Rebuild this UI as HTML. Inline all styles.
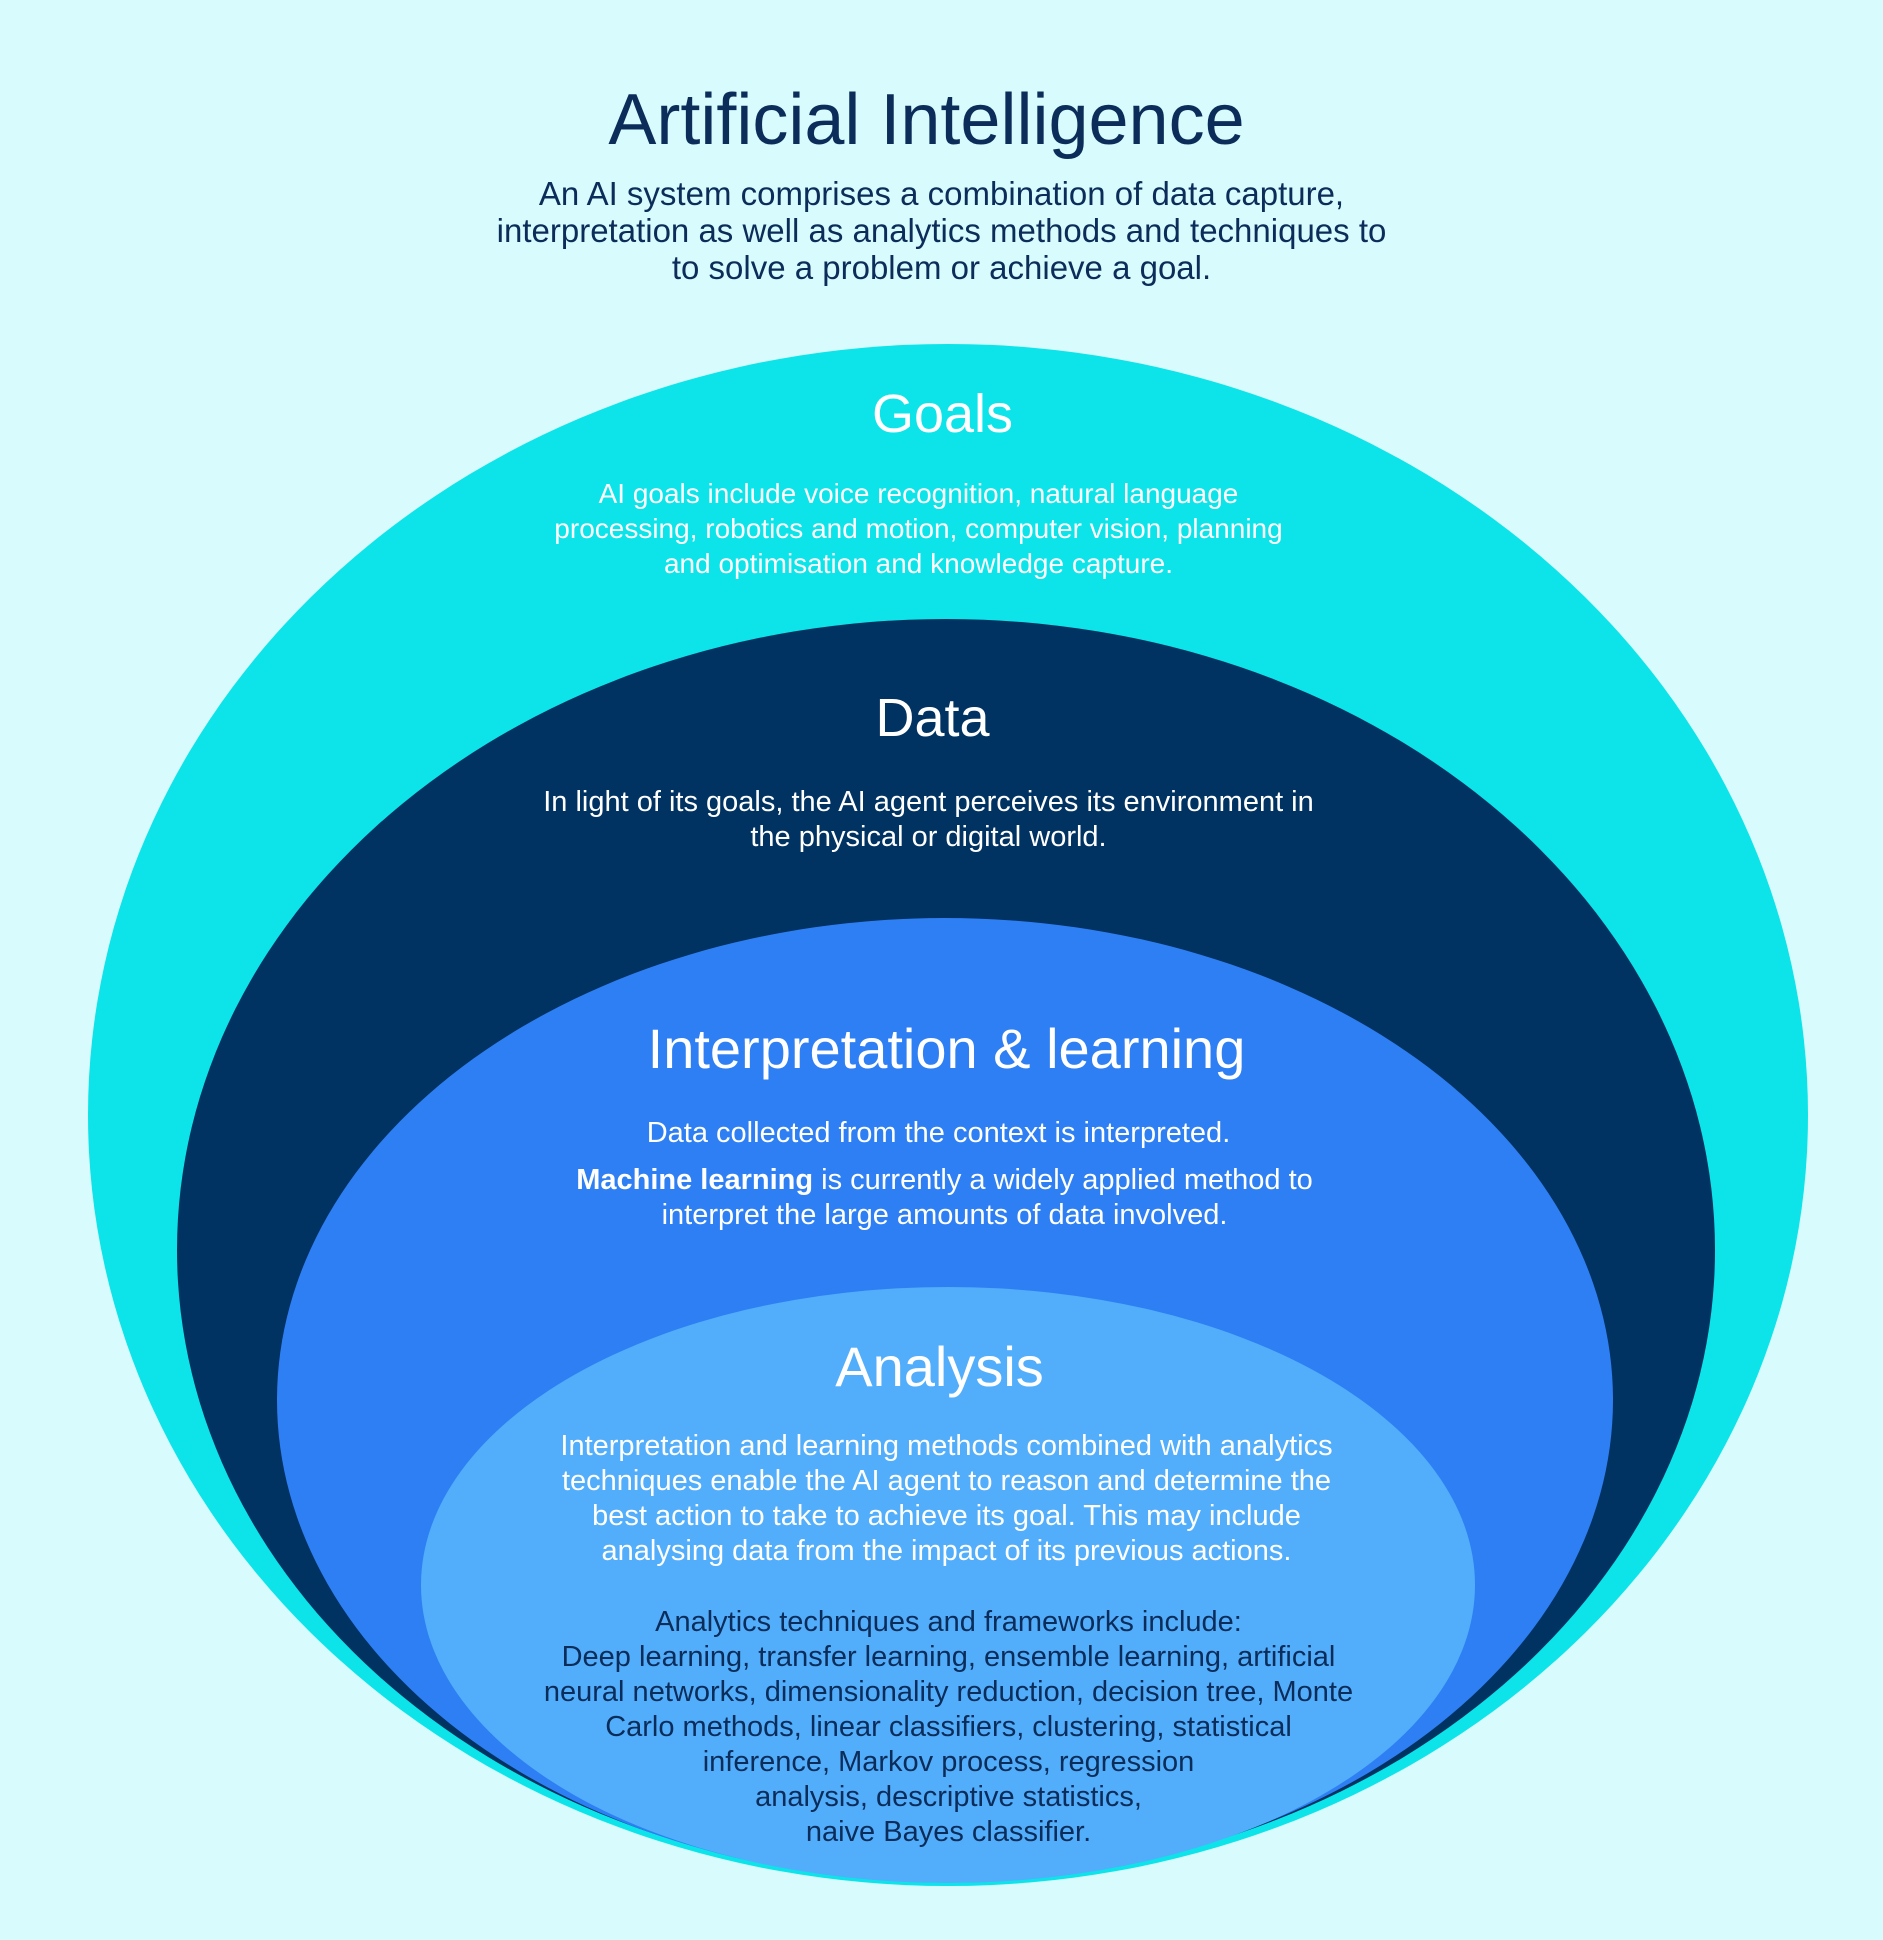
<!DOCTYPE html>
<html><head><meta charset="utf-8"><style>
body{margin:0;width:1883px;height:1940px;background:#d8fbfd;position:relative;overflow:hidden;font-family:"Liberation Sans",sans-serif}
.t{position:absolute;left:0;width:1883px;text-align:center;white-space:nowrap}
.l{position:absolute;width:1883px;text-align:center;white-space:nowrap;font-size:29px;line-height:35px;color:#fff}
</style></head><body>
<svg width="1883" height="1940" style="position:absolute;left:0;top:0">
<ellipse cx="948" cy="1115" rx="860" ry="771" fill="#0ce4ea"/>
<ellipse cx="946" cy="1250" rx="769" ry="631" fill="#003262"/>
<ellipse cx="945" cy="1400" rx="668" ry="482" fill="#2e7ff3"/>
<ellipse cx="948" cy="1585" rx="527" ry="298" fill="#52aefb"/>
</svg>
<div class="t" style="top:75px;left:-15px;font-size:72px;line-height:90px;color:#0c2c5a">Artificial Intelligence</div>
<div class="t" style="top:175px;left:0px;font-size:33px;line-height:37px;color:#0c2c5a">An AI system comprises a combination of data capture,<br>interpretation as well as analytics methods and techniques to<br>to solve a problem or achieve a goal.</div>
<div class="t" style="top:380px;left:1px;font-size:54px;line-height:68px;color:#fff">Goals</div>
<div class="l" style="top:476px;left:-23px;font-size:28px">AI goals include voice recognition, natural language<br>processing, robotics and motion, computer vision, planning<br>and optimisation and knowledge capture.</div>
<div class="t" style="top:684px;left:-9px;font-size:54px;line-height:68px;color:#fff">Data</div>
<div class="l" style="top:785px;left:-13px">In light of its goals, the AI agent perceives its environment in<br>the physical or digital world.</div>
<div class="t" style="top:1015px;left:5px;font-size:56px;line-height:68px;color:#fff">Interpretation &amp; learning</div>
<div class="l" style="top:1116px;left:-3px">Data collected from the context is interpreted.</div>
<div class="l" style="top:1163px;left:3px"><b>Machine learning</b> is currently a widely applied method to<br>interpret the large amounts of data involved.</div>
<div class="t" style="top:1333px;left:-2px;font-size:56px;line-height:68px;color:#fff">Analysis</div>
<div class="l" style="top:1429px;left:5px">Interpretation and learning methods combined with analytics<br>techniques enable the AI agent to reason and determine the<br>best action to take to achieve its goal. This may include<br>analysing data from the impact of its previous actions.</div>
<div class="l" style="top:1605px;left:7px;color:#0c2c5a">Analytics techniques and frameworks include:<br>Deep learning, transfer learning, ensemble learning, artificial<br>neural networks, dimensionality reduction, decision tree, Monte<br>Carlo methods, linear classifiers, clustering, statistical<br>inference, Markov process, regression<br>analysis, descriptive statistics,<br>naive Bayes classifier.</div>
</body></html>
